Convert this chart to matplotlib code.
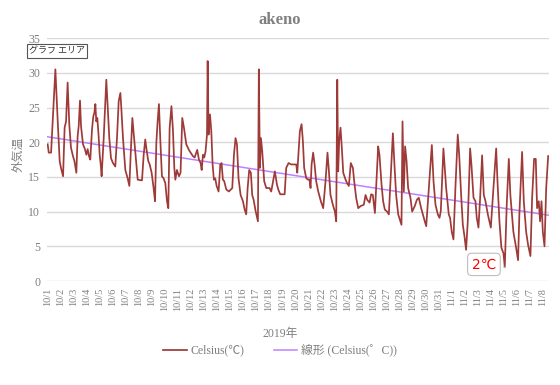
import numpy as np
import matplotlib
matplotlib.use('Agg')
import matplotlib.pyplot as plt

plt.rcParams['font.family'] = ['Liberation Serif', 'Noto Sans CJK JP', 'DejaVu Sans']

# 経過日数 (10/1 0時 = 0) と気温
days = [0.00, 0.08, 0.26, 0.59, 0.77, 0.92, 1.02, 1.18, 1.30, 1.41, 1.53, 1.66, 1.79, 1.94,
        2.05, 2.20, 2.30, 2.38, 2.48, 2.56, 2.71, 2.86, 2.97, 3.07, 3.17, 3.27, 3.40, 3.50,
        3.58, 3.66, 3.73, 3.81, 3.91, 3.99, 4.07, 4.14, 4.30, 4.40, 4.50, 4.60, 4.73, 4.86,
        5.01, 5.19, 5.32, 5.45, 5.58, 5.65, 5.78, 5.96, 6.14, 6.27, 6.37, 6.50, 6.60, 6.70,
        6.80, 6.91, 7.24, 7.37, 7.49, 7.57, 7.72, 7.83, 7.98, 8.13, 8.24, 8.34, 8.44, 8.54,
        8.64, 8.77, 8.90, 9.03, 9.16, 9.26, 9.36, 9.50, 9.62, 9.72, 9.80, 9.92, 10.08, 10.20,
        10.33, 10.46, 10.64, 10.84, 10.97, 11.15, 11.28, 11.48, 11.61, 11.74, 11.82, 11.92,
        12.02, 12.12, 12.23, 12.28, 12.35, 12.46, 12.56, 12.66, 12.76, 12.86, 12.97, 13.12,
        13.25, 13.35, 13.45, 13.55, 13.71, 13.91, 14.17, 14.30, 14.42, 14.53, 14.65, 14.81,
        14.99, 15.12, 15.24, 15.35, 15.47, 15.60, 15.70, 15.81, 15.96, 16.14, 16.21, 16.29,
        16.37, 16.47, 16.62, 16.78, 17.03, 17.16, 17.44, 17.60, 17.70, 17.85, 18.19, 18.31,
        18.49, 18.70, 19.08, 19.16, 19.36, 19.49, 19.59, 19.69, 19.85, 20.00, 20.10, 20.18,
        20.26, 20.38, 20.49, 20.61, 20.77, 20.97, 21.15, 21.33, 21.48, 21.59, 21.71, 21.89,
        22.05, 22.15, 22.23, 22.30, 22.38, 22.48, 22.58, 22.69, 22.87, 22.99, 23.12, 23.27,
        23.43, 23.53, 23.68, 23.84, 24.02, 24.27, 24.40, 24.53, 24.71, 24.83, 24.96, 25.12,
        25.24, 25.37, 25.47, 25.63, 25.75, 25.88, 26.06, 26.19, 26.32, 26.50, 26.62, 26.75,
        26.91, 27.16, 27.24, 27.34, 27.44, 27.55, 27.67, 27.85, 27.98, 28.18, 28.34, 28.49,
        28.67, 28.80, 28.95, 29.06, 29.26, 29.49, 29.62, 29.77, 29.95, 30.08, 30.18, 30.38,
        30.59, 30.79, 30.89, 31.02, 31.15, 31.30, 31.48, 31.59, 31.74, 31.87, 32.00, 32.12,
        32.25, 32.43, 32.53, 32.69, 32.84, 32.94, 33.07, 33.20, 33.35, 33.48, 33.61, 33.79,
        34.02, 34.22, 34.43, 34.53, 34.68, 34.83, 34.99, 35.09, 35.24, 35.40, 35.52, 35.75,
        35.96, 36.11, 36.21, 36.42, 36.55, 36.73, 36.88, 37.06, 37.19, 37.34, 37.47, 37.57,
        37.70, 37.80, 37.91, 38.01, 38.14, 38.27, 38.42]
celsius = [19.7, 18.5, 18.5, 30.5, 23.0, 17.3, 16.3, 15.1, 22.1, 23.0, 28.6, 22.5, 19.2, 18.0,
           17.3, 15.6, 20.9, 22.3, 26.0, 22.3, 19.7, 19.0, 18.2, 19.0, 18.0, 17.5, 21.8, 23.7,
           24.2, 25.5, 23.0, 23.5, 20.9, 18.2, 16.8, 15.1, 20.6, 24.7, 29.0, 25.4, 20.6, 17.7,
           17.0, 16.5, 20.6, 25.9, 27.1, 25.0, 20.6, 16.0, 14.8, 13.7, 18.2, 23.5, 21.3, 19.2,
           16.8, 14.6, 14.5, 18.2, 20.4, 19.2, 17.3, 16.8, 15.6, 13.4, 11.5, 19.9, 23.0, 25.5,
           20.6, 15.1, 14.8, 14.1, 11.5, 10.5, 22.0, 25.2, 21.6, 16.3, 14.6, 16.0, 15.1, 15.6,
           23.5, 22.1, 19.7, 18.9, 18.5, 18.0, 17.8, 18.9, 17.5, 17.0, 16.0, 18.2,
           17.8, 18.7, 21.1, 31.7, 21.1, 24.0, 21.6, 16.8, 14.6, 14.8, 13.7, 12.9,
           16.8, 17.0, 14.6, 14.4, 13.2, 12.9, 13.4, 18.2, 20.6, 19.7, 14.8, 12.4,
           11.5, 10.3, 9.6, 13.4, 16.0, 15.6, 12.4, 11.7, 10.1, 8.6, 30.5, 16.3,
           20.6, 18.7, 14.4, 13.4, 13.4, 12.9, 15.8, 13.9, 13.2, 12.5, 12.5, 16.3,
           17.0, 16.8, 16.8, 15.6, 21.6, 22.6, 20.2, 16.3, 14.8, 14.6, 14.6, 13.4,
           16.8, 18.5, 16.8, 14.4, 12.9, 11.5, 10.5, 14.4, 18.5, 15.8, 12.4, 11.0,
           10.0, 8.6, 29.0, 15.8, 20.2, 22.1, 19.2, 15.6, 14.6, 14.1, 13.7, 17.0,
           16.3, 14.4, 12.0, 10.5, 10.8, 11.0, 12.4, 11.7, 11.3, 12.5, 12.4, 9.8,
           14.4, 19.4, 18.2, 13.9, 11.5, 10.3, 10.0, 9.6, 14.4, 21.3, 16.8, 12.4,
           9.6, 8.1, 23.0, 12.9, 19.4, 17.3, 13.4, 12.0, 10.0, 10.8, 11.7, 12.0,
           10.5, 9.6, 8.6, 7.9, 13.4, 19.6, 14.4, 11.0, 9.6, 9.1, 10.1, 19.1,
           13.4, 9.6, 9.1, 7.1, 6.0, 13.4, 21.1, 18.2, 12.4, 8.1, 6.4, 4.5,
           8.6, 19.1, 16.8, 12.0, 11.5, 9.1, 7.7, 12.0, 18.1, 12.4, 11.5, 9.6,
           7.7, 13.4, 19.1, 14.4, 8.6, 4.8, 4.0, 2.0, 11.0, 17.6, 12.4, 7.1,
           4.8, 3.0, 9.6, 18.6, 11.5, 7.1, 5.2, 3.6, 12.0, 17.6, 17.6, 10.5,
           11.5, 8.6, 11.5, 7.1, 5.0, 13.4, 18.0]

tick_labels = ['10/%d' % d for d in range(1, 32)] + ['11/%d' % d for d in range(1, 9)]
y_ticks = [0, 5, 10, 15, 20, 25, 30, 35]

days = np.array(days)
celsius = np.array(celsius)

# 線形近似（1時間ごとに並べ直してから直線を当てる）
hours = np.arange(0, days[-1], 1 / 24)
coef = np.polyfit(hours, np.interp(hours, days, celsius), 1)
trend = np.polyval(coef, days)

line_color = '#9E3A38'
trend_color = '#BF80FF'
gray = '#7F7F7F'

fig = plt.figure(figsize=(5.6, 3.85), dpi=100)
ax = fig.add_axes([0.084, 0.270, 0.896, 0.631])

ax.plot(days, celsius, color=line_color, lw=1.25, label='Celsius(℃)', zorder=3)
ax.plot(days, trend, color=trend_color, lw=1.1, label='線形 (Celsius(゜C))', zorder=2)

ax.set_xlim(-0.05, days[-1] + 0.05)
ax.set_ylim(0, 35)
ax.set_yticks(y_ticks)
ax.set_yticklabels([str(v) for v in y_ticks], color=gray, fontsize=8.5)
ax.set_xticks(range(len(tick_labels)))
ax.set_xticklabels(tick_labels, rotation=90, color=gray, fontsize=7.5)
ax.tick_params(length=0, pad=5)
ax.grid(axis='y', color='#D9D9D9', lw=1)
ax.set_axisbelow(True)
for s in ax.spines.values():
    s.set_visible(False)

ax.set_ylabel('外気温', color=gray, fontsize=8.5, family=['Noto Sans CJK JP'])
ax.yaxis.set_label_coords(-0.045, 0.52)

fig.text(0.5, 0.948, 'akeno', ha='center', va='center', color='#808080', fontsize=12,
         fontweight='bold')
fig.text(0.5, 0.132, '2019年', ha='center', va='center', color=gray, fontsize=8.5,
         family=['Liberation Serif', 'Noto Sans CJK JP'])

fig.legend(loc='center', bbox_to_anchor=(0.5, 0.09), ncol=2, frameon=False,
           fontsize=8.5, handlelength=2.0, columnspacing=2.5, handletextpad=0.3,
           labelcolor=gray)

# 最低気温の吹き出し
i_min = int(np.argmin(celsius))
ax.annotate('2℃', xy=(days[i_min], celsius[i_min]), xytext=(days[i_min] - 1.6, 2.4),
            ha='center', va='center', color='red', fontsize=10,
            family=['DejaVu Sans'],
            bbox=dict(boxstyle='round,pad=0.3', fc='white', ec='#BFBFBF', lw=0.8),
            arrowprops=dict(arrowstyle='-', color='#BFBFBF', lw=0.8), zorder=5)

# グラフ エリア のツールチップ
fig.text(0.052, 0.868, 'グラフ エリア', ha='left', va='center', fontsize=6.5,
         color='#333333', family=['Noto Sans CJK JP'],
         bbox=dict(boxstyle='square,pad=0.25', fc='white', ec='#555555', lw=0.8))

fig.savefig('out.png', dpi=100)
